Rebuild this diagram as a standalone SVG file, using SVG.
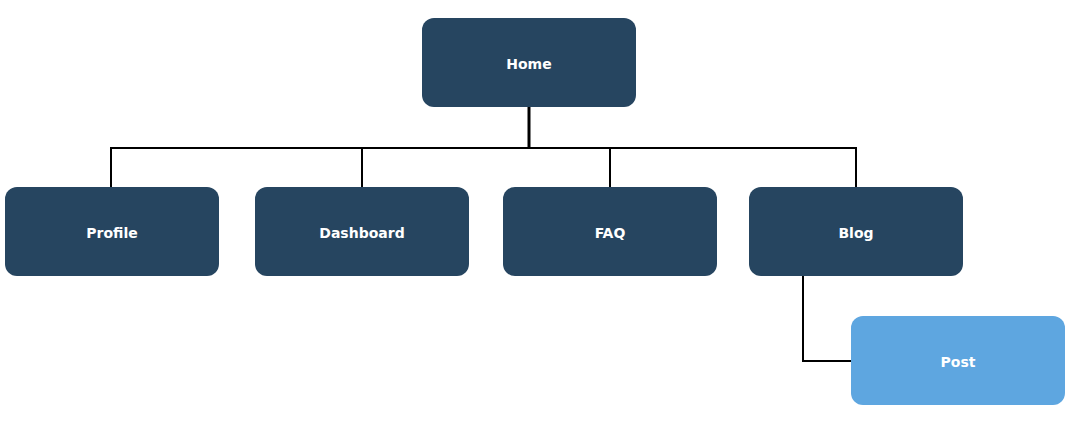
<svg xmlns="http://www.w3.org/2000/svg" width="1071" height="430" viewBox="0 0 1071 430">
<style>
.node{fill:#264560}
.child{fill:#5EA6E0}
.lbl{font-family:"DejaVu Sans",Verdana,sans-serif;font-weight:bold;font-size:14px;fill:#FFFFFF;text-anchor:middle;dominant-baseline:central}
.conn{fill:none;stroke:#000000;stroke-width:2}
</style>
<rect width="1071" height="430" fill="#FFFFFF"/>
<g id="connectors">
<path class="conn" d="M529 107 V148" style="stroke-width:3"/>
<path class="conn" d="M111 187 V148 H856 V187"/>
<path class="conn" d="M362 148 V187"/>
<path class="conn" d="M610 148 V187"/>
<path class="conn" d="M803 276 V361 H851"/>
</g>
<g id="home"><rect class="node" x="422" y="18" width="214" height="89" rx="12"/><text class="lbl" x="529" y="64">Home</text></g>
<g id="profile"><rect class="node" x="5" y="187" width="214" height="89" rx="12"/><text class="lbl" x="112" y="233">Profile</text></g>
<g id="dashboard"><rect class="node" x="255" y="187" width="214" height="89" rx="12"/><text class="lbl" x="362" y="233">Dashboard</text></g>
<g id="faq"><rect class="node" x="503" y="187" width="214" height="89" rx="12"/><text class="lbl" x="610" y="233">FAQ</text></g>
<g id="blog"><rect class="node" x="749" y="187" width="214" height="89" rx="12"/><text class="lbl" x="856" y="233">Blog</text></g>
<g id="post"><rect class="child" x="851" y="316" width="214" height="89" rx="12"/><text class="lbl" x="958" y="362">Post</text></g>
</svg>
